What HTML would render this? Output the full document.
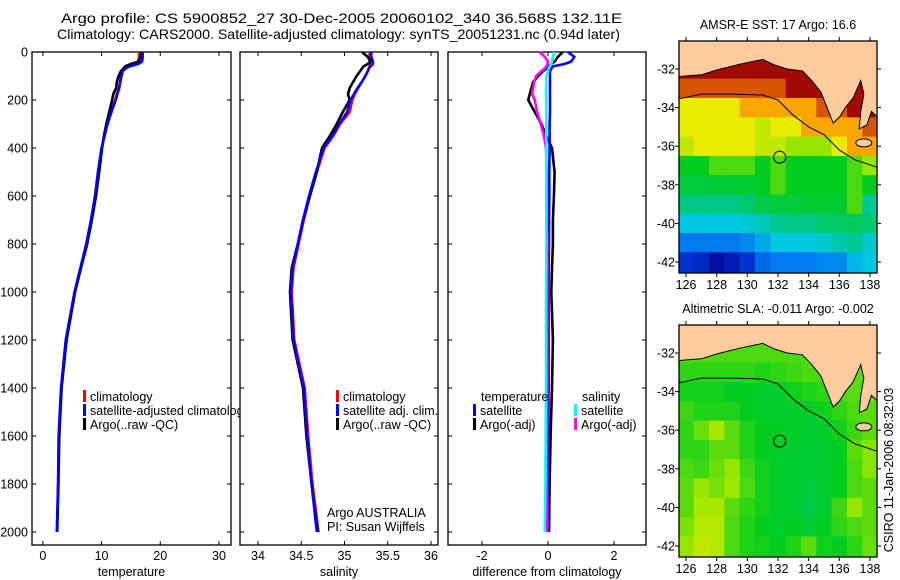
<!DOCTYPE html>
<html><head><meta charset="utf-8"><style>
html,body{margin:0;padding:0;background:#fff;}
svg{display:block;font-family:"Liberation Sans",sans-serif;}
</style></head><body>
<svg id="fig" width="900" height="580" viewBox="0 0 900 580" xmlns="http://www.w3.org/2000/svg">
<text x="61" y="23" font-size="14" textLength="561" lengthAdjust="spacingAndGlyphs">Argo profile: CS 5900852_27 30-Dec-2005 20060102_340 36.568S 132.11E</text>
<text x="57" y="39" font-size="14" textLength="563" lengthAdjust="spacingAndGlyphs">Climatology: CARS2000. Satellite-adjusted climatology: synTS_20051231.nc (0.94d later)</text>
<text x="778" y="29" font-size="12.5" text-anchor="middle">AMSR-E SST: 17 Argo: 16.6</text>
<text x="778" y="313" font-size="12.5" text-anchor="middle">Altimetric SLA: -0.011 Argo: -0.002</text>
<text transform="translate(893,470) rotate(-90)" font-size="12.5" text-anchor="middle">CSIRO 11-Jan-2006 08:32:03</text>
<g id="layer"></g>
</svg>
<script>
// ---- profile data ----
const depths = [0,20,40,50,60,70,80,100,125,150,175,200,250,300,350,400,500,600,700,800,900,1000,1200,1400,1600,1800,2000];
const tempClim = [16.4,16.4,16.2,15.0,14.2,13.7,13.5,13.3,13.1,13.0,12.6,12.3,11.6,11.0,10.5,10.0,9.4,8.9,8.2,7.4,6.4,5.4,3.9,3.1,2.7,2.6,2.4];
const tempSat  = [17.0,17.0,16.9,16.2,14.8,14.0,13.6,13.4,13.2,13.0,12.7,12.4,11.7,11.0,10.5,10.0,9.4,8.9,8.2,7.4,6.4,5.4,3.9,3.1,2.7,2.6,2.4];
const tempArgo = [16.8,16.6,16.4,15.0,14.0,13.7,13.3,12.9,12.6,12.5,12.0,11.8,11.3,10.8,10.4,10.1,9.6,9.05,8.35,7.55,6.5,5.5,4.05,3.2,2.8,2.65,2.45];
const salClim = [35.29,35.29,35.3,35.3,35.29,35.28,35.27,35.24,35.2,35.16,35.12,35.09,35.06,34.95,34.87,34.77,34.68,34.6,34.53,34.47,34.41,34.39,34.42,34.54,34.58,34.63,34.70];
const salSat  = [35.31,35.31,35.33,35.33,35.30,35.28,35.27,35.24,35.2,35.15,35.11,35.07,35.03,34.94,34.86,34.76,34.67,34.59,34.52,34.46,34.40,34.38,34.41,34.53,34.57,34.62,34.68];
const salArgo = [35.2,35.27,35.3,35.27,35.22,35.2,35.18,35.14,35.1,35.06,35.04,35.06,34.98,34.91,34.83,34.74,34.68,34.6,34.52,34.46,34.39,34.37,34.40,34.52,34.56,34.62,34.69];
const dTempSat  = [0.6,0.8,0.7,0.5,0.15,0.1,0.06,0.06,0.06,0.06,0.06,0.06,0.06,0.05,0.05,0.05,0.04,0.04,0.03,0.03,0.02,0.02,0.02,0.02,0.01,0.01,0.0];
const dTempArgo = [0.45,0.3,0.2,0.1,0.0,-0.05,-0.15,-0.3,-0.45,-0.5,-0.55,-0.6,-0.4,-0.2,-0.05,0.12,0.2,0.18,0.15,0.15,0.12,0.1,0.15,0.12,0.08,0.05,0.03];
const dSalSat  = [0.2,0.15,0.12,0.1,0.05,0.02,0.0,-0.05,-0.05,-0.06,-0.06,-0.05,-0.05,-0.05,-0.05,-0.05,-0.05,-0.05,-0.05,-0.05,-0.05,-0.06,-0.06,-0.06,-0.07,-0.08,-0.1];
const dSalArgo = [-0.25,-0.1,0.0,-0.02,-0.05,-0.1,-0.2,-0.36,-0.42,-0.45,-0.48,-0.4,-0.33,-0.22,-0.12,-0.06,-0.04,-0.03,-0.03,-0.02,-0.02,-0.02,-0.02,-0.02,-0.03,-0.03,-0.02];
const depthTicks = [0,200,400,600,800,1000,1200,1400,1600,1800,2000];
const tempTicks = [0,10,20,30];
const salTicks = [34,34.5,35,35.5,36];
const diffTicks = [-2,0,2];
// ---- map data (colour index 0..10), rows lat -31..-42, cols lon 126..138 ----
const sstGrid = [
[10,10,10,10,10,10,10,10,10,10,10,10,10],
[10,10,10,10,10,10,10,10,10,10,10,10,10],
[9,9,9,9,9,9,9,10,10,10,10,10,10],
[7,7,7,7,8,8,8,8,8,9,9,10,10],
[7,7,7,7,7,6.5,7,7,8,8,8,8,9],
[6.5,7,7,7,7,6.5,6.5,6,6,6,7,8,8],
[5,5,5.5,5.5,5.5,5,5.5,5,5,5,5,5.5,6],
[4.7,4.7,4.8,4.8,4.8,5,5.5,5,5,5,5,5.5,5],
[4,4,4,4,4.2,4.6,4.7,4.7,4.8,4.8,4.8,5.5,3.8],
[3,3,3,3,3.2,3.4,3.8,4,4,4.2,4.3,4.4,4.2],
[2,2,2,2,2.2,2.6,3,3,3,3.2,3.6,3.8,3.2],
[1,0.8,0.3,0.6,1,1.8,2,2,2,2.2,2.2,2.8,3]];
const slaGrid = [
[5.5,5.5,5.5,5.5,5.5,5.5,5.5,5.5,5.5,5.5,5.5,5.5,5.5],
[5.5,5.5,5.5,5.5,5.5,5.5,5.5,5.5,5.5,5.5,5.5,5.6,5.6],
[5.3,5.3,5.3,5.3,5.3,5.2,5.3,5.4,5.5,5.5,5.6,5.6,5.7],
[5.1,5.1,5.1,5.0,5.0,4.9,4.9,5.1,5.2,5.3,5.5,5.6,5.7],
[5.4,5.2,5.2,5.2,5.0,4.9,4.9,4.9,4.9,5.1,5.3,5.5,5.6],
[5.3,5.7,6.2,5.6,5.2,5.0,5.0,4.9,4.8,4.9,5.1,5.4,5.6],
[5.3,5.3,5.6,5.6,5.2,5.0,4.9,4.9,4.8,4.8,5.0,5.6,5.9],
[5.5,5.4,5.7,6.0,5.4,5.1,4.9,4.8,4.8,4.8,5.0,5.5,5.9],
[5.6,6.0,5.8,6.1,5.5,5.1,4.9,4.8,4.7,4.8,5.0,5.5,5.6],
[5.6,6.2,6.2,5.6,5.3,5.1,4.9,4.8,4.6,4.8,5.4,6.0,5.6],
[5.8,6.3,6.3,5.5,5.2,5.0,4.9,5.0,4.8,5.0,5.3,5.5,5.6],
[6.0,6.5,6.3,5.5,5.2,5.1,5.0,5.2,5.6,5.1,5.0,5.3,5.7]];
const latTicks = [-32,-34,-36,-38,-40,-42];
const lonTicks = [126,128,130,132,134,136,138];
const argoPos = [132.11,-36.568];

const NS='http://www.w3.org/2000/svg';
const layer=document.getElementById('layer');
function mk(tag,attrs,parent){const e=document.createElementNS(NS,tag);for(const k in attrs)e.setAttribute(k,attrs[k]);(parent||layer).appendChild(e);return e;}
function txt(x,y,s,size,anchor,parent){const t=mk('text',{x:x,y:y,'font-size':size,'text-anchor':anchor||'start'},parent);t.textContent=s;return t;}

const yD=d=>52+d*0.24;
const Y0=52,Y1=545;
function panel(name,x0,x1,xmin,xmax,ticks,label,showY){
  const g=mk('g',{});
  
  
  const sx=v=>x0+(v-xmin)/(xmax-xmin)*(x1-x0);
  const r=mk('rect',{x:x0,y:Y0,width:x1-x0,height:Y1-Y0,fill:'#fff',stroke:'#000','stroke-width':1.3},g);
  
  
  depthTicks.forEach(d=>{
    mk('line',{x1:x0,x2:x0+4,y1:yD(d),y2:yD(d),stroke:'#000'},g);
    mk('line',{x1:x1,x2:x1-4,y1:yD(d),y2:yD(d),stroke:'#000'},g);
    if(showY){const t=txt(28,yD(d)+4.5,String(d),12.5,'end',g);
      
      }
  });
  ticks.forEach(v=>{
    mk('line',{x1:sx(v),x2:sx(v),y1:Y1,y2:Y1-4,stroke:'#000'},g);
    mk('line',{x1:sx(v),x2:sx(v),y1:Y0,y2:Y0+4,stroke:'#000'},g);
    const t=txt(sx(v),560,String(v),12.5,'middle',g);
    
    
  });
  const lt=txt((x0+x1)/2,576,label,12.5,'middle',g);
  
  
  return {g,sx};
}
function series(p,vals,color,name){
  const pts=vals.map((v,i)=>p.sx(v).toFixed(1)+','+yD(depths[i]).toFixed(1)).join(' ');
  const l=mk('polyline',{points:pts,fill:'none',stroke:color,'stroke-width':2.6,'stroke-linejoin':'round'},p.g);
  
  
}
function legend(g,x,y,color,label){
  const b=mk('rect',{x:x,y:y-11,width:3,height:12,fill:color},g);
  
  
  const t=txt(x+7,y,label,12.5,'start',g);
  
  
}
const p1=panel('temperature-panel',32,231,-1.85,32.05,tempTicks,'temperature',true);
series(p1,tempClim,'#f00','temp-climatology-line');
series(p1,tempArgo,'#000','temp-argo-line');
series(p1,tempSat,'#00f','temp-satellite-line');
const p2=panel('salinity-panel',240,438,33.792,36.081,salTicks,'salinity',false);
series(p2,salClim,'#f00','sal-climatology-line');
series(p2,salArgo,'#000','sal-argo-line');
series(p2,salSat,'#00f','sal-satellite-line');
const p3=panel('difference-panel',448,646,-3.03,2.97,diffTicks,'difference from climatology',false);
series(p3,dTempArgo,'#000','diff-temp-argo-line');
series(p3,dTempSat,'#00f','diff-temp-satellite-line');
series(p3,dSalArgo,'#f0f','diff-sal-argo-line');
series(p3,dSalSat,'#0ff','diff-sal-satellite-line');
legend(p1.g,83,401,'#f00','climatology');
legend(p1.g,83,415,'#00f','satellite-adjusted climatology');
legend(p1.g,83,429,'#000','Argo(..raw -QC)');
legend(p2.g,336,401,'#f00','climatology');
legend(p2.g,336,415,'#00f','satellite adj. clim.');
legend(p2.g,336,429,'#000','Argo(..raw -QC)');
let t=txt(327,517,'Argo AUSTRALIA',12.5,'start',p2.g);
t=txt(327,531,'PI: Susan Wijffels',12.5,'start',p2.g);
t=txt(481,401,'temperature',12.5,'start',p3.g);
t=txt(582,401,'salinity',12.5,'start',p3.g);
legend(p3.g,473,415,'#00f','satellite');
legend(p3.g,473,429,'#000','Argo(-adj)');
legend(p3.g,574,415,'#0ff','satellite');
legend(p3.g,574,429,'#f0f','Argo(-adj)');
layer.appendChild(p2.g);layer.appendChild(p3.g);

// ---- maps ----
const stops=[[0,[0,0,140]],[1,[0,50,210]],[2,[0,120,240]],[3,[0,200,225]],[4,[0,200,130]],[5,[0,205,30]],[6,[150,230,0]],[7,[235,235,0]],[8,[250,165,0]],[9,[215,85,0]],[10,[160,10,0]]];
function cmap(v){v=Math.max(0,Math.min(10,v));const i=Math.min(9,Math.floor(v));const f=v-i;const a=stops[i][1],b=stops[i+1][1];
  return 'rgb('+a.map((c,k)=>Math.round(c+(b[k]-c)*f)).join(',')+')';}
const land=[[125.4,-30.4],[125.4,-32.4],[127,-32.3],[128,-32.05],[129.5,-31.75],[131,-31.5],[131.8,-31.8],[132.6,-32.0],[133.6,-32.1],[134.2,-32.6],[134.8,-33.2],[135.2,-34.0],[135.6,-34.8],[136.0,-34.5],[136.4,-34.0],[136.9,-33.5],[137.4,-32.6],[137.6,-33.3],[137.4,-34.2],[137.3,-35.1],[137.8,-34.9],[138.1,-34.2],[138.5,-34.5],[138.6,-35.6],[138.6,-30.4]];
const shelf=[[125.5,-33.55],[127,-33.3],[129,-33.3],[131,-33.35],[132,-33.6],[133,-34.4],[134,-35],[135,-35.4],[136,-36.2],[137,-36.7],[138.5,-37.1]];
function map(name,y0,grid){
  const x0=679,x1=877,y1=y0+232;
  const lx=lo=>686+(lo-126)*15.33;
  const ly=la=>(y0+28)+(-32-la)*19.3;
  const g=mk('g',{});
  
  
  const cp=mk('clipPath',{id:name+'-clip'},g);
  mk('rect',{x:x0,y:y0,width:x1-x0,height:y1-y0},cp);
  const inner=mk('g',{'clip-path':'url(#'+name+'-clip)'},g);
  grid.forEach((row,i)=>row.forEach((v,j)=>{
    const c=mk('rect',{x:lx(125.5+j).toFixed(1),y:ly(-30.5-i).toFixed(1),width:16.3,height:20.3,fill:cmap(v)},inner);
    
    
  }));
  const lp=mk('polygon',{points:land.map(p=>lx(p[0])+','+ly(p[1])).join(' '),fill:'#fccc9c',stroke:'#000','stroke-width':1},inner);
  
  const ki=mk('ellipse',{cx:lx(137.6),cy:ly(-35.83),rx:8,ry:4,fill:'#fccc9c',stroke:'#000','stroke-width':1},inner);
  
  const sl=mk('polyline',{points:shelf.map(p=>lx(p[0])+','+ly(p[1])).join(' '),fill:'none',stroke:'#000','stroke-width':1},inner);
  
  const ac=mk('circle',{cx:lx(argoPos[0]),cy:ly(argoPos[1]),r:6,fill:'none',stroke:'#000','stroke-width':1},inner);
  
  const fr=mk('rect',{x:x0,y:y0,width:x1-x0,height:y1-y0,fill:'none',stroke:'#000','stroke-width':1.3},g);
  
  latTicks.forEach(la=>{
    mk('line',{x1:x0,x2:x0-4,y1:ly(la),y2:ly(la),stroke:'#000'},g);
    mk('line',{x1:x1,x2:x1+4,y1:ly(la),y2:ly(la),stroke:'#000'},g);
    const tt=txt(x0-4,ly(la)+4.5,String(la),12.5,'end',g);
    
  });
  lonTicks.forEach(lo=>{
    mk('line',{x1:lx(lo),x2:lx(lo),y1:y0,y2:y0-4,stroke:'#000'},g);
    mk('line',{x1:lx(lo),x2:lx(lo),y1:y1,y2:y1+4,stroke:'#000'},g);
    const tt=txt(lx(lo),y1+16,String(lo),12.5,'middle',g);
    
  });
}
map('sst-map',41,sstGrid);
map('sla-map',325,slaGrid);
</script>
</body></html>
